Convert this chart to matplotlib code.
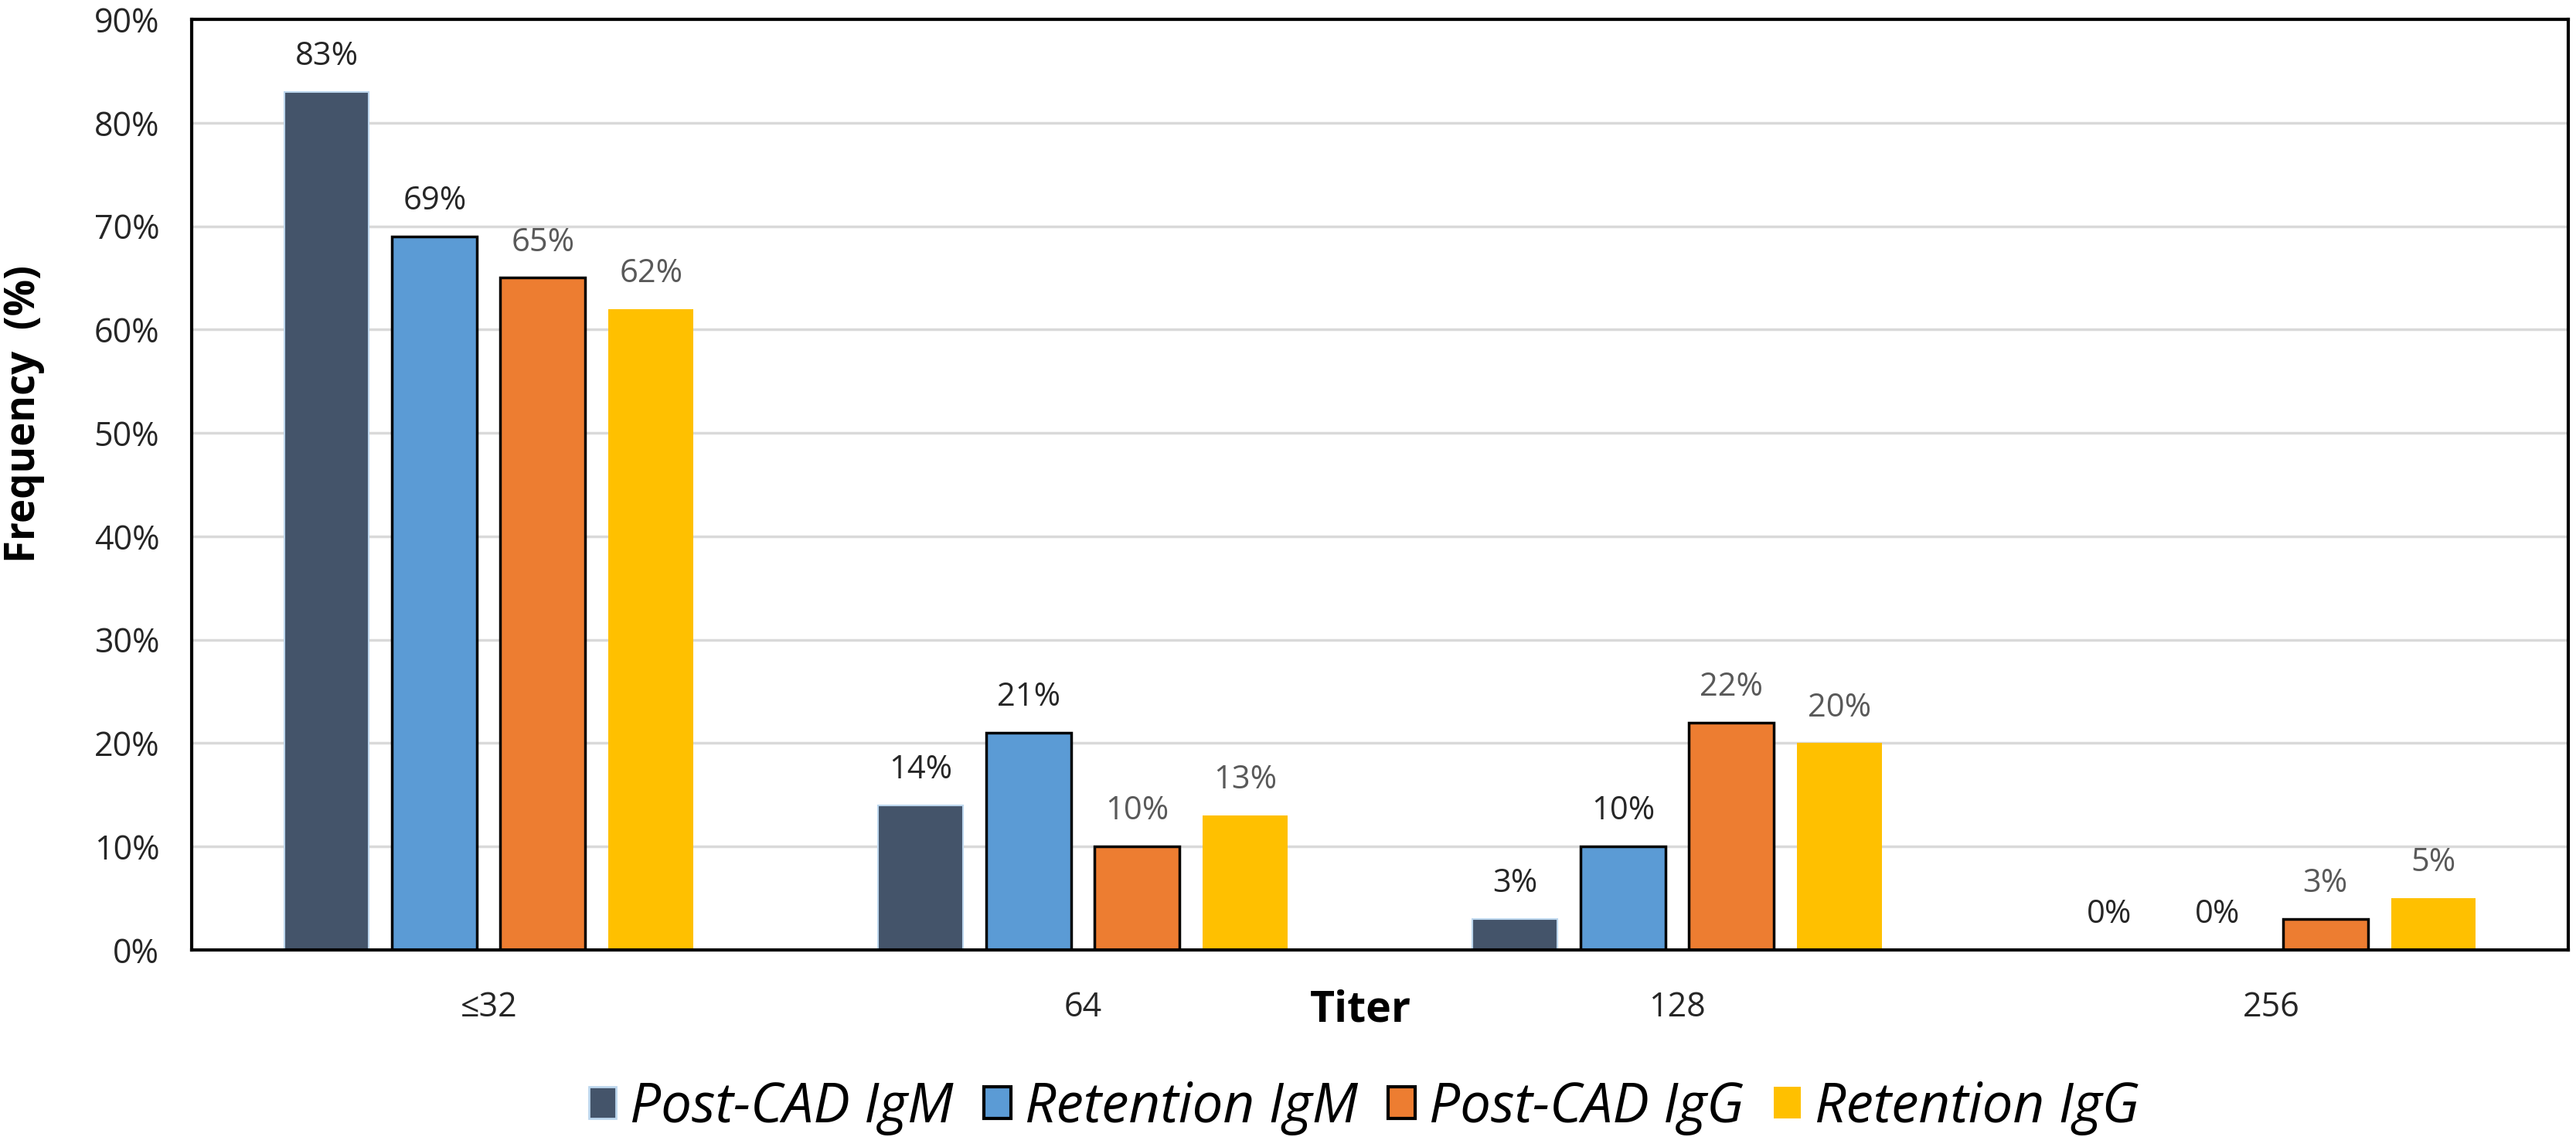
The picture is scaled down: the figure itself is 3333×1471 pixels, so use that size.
import numpy as np
import matplotlib
matplotlib.use('Agg')
import matplotlib.pyplot as plt
from matplotlib.ticker import MultipleLocator, FuncFormatter
from matplotlib.patches import Patch

plt.rcParams['font.family'] = ['Open Sans', 'DejaVu Sans']

# data
titers = ['\u226432', '64', '128', '256']
series = ['Post-CAD IgM', 'Retention IgM', 'Post-CAD IgG', 'Retention IgG']
post_cad_igm  = [83, 14, 3, 0]
retention_igm = [69, 21, 10, 0]
post_cad_igg  = [65, 10, 22, 3]
retention_igg = [62, 13, 20, 5]
values = [post_cad_igm, retention_igm, post_cad_igg, retention_igg]

# styles
fills  = ['#44546A', '#5B9BD5', '#ED7D31', '#FFC000']
edges  = ['#BDD7EE', 'black', 'black', 'none']
lws    = [1.5, 2.5, 2.5, 0]
lblcol = ['#262626', '#262626', '#595959', '#595959']

W, H = 3333, 1471
fig = plt.figure(figsize=(W/100, H/100), dpi=100)
ax = fig.add_axes([248/W, 1-1229/H, (3323-248)/W, (1229-25)/H])

x = np.arange(len(titers))
pitch = 0.182
width = 0.143
for i, (vals, name) in enumerate(zip(values, series)):
    pos = x + (i-1.5)*pitch
    ax.bar(pos, vals, width, color=fills[i], edgecolor=edges[i],
           linewidth=lws[i], label=name, zorder=3)
    for p, v in zip(pos, vals):
        ax.annotate('%d%%' % v, (p, v), xytext=(0, 33), textcoords='offset points',
                    ha='center', va='center', fontsize=30, color=lblcol[i])

ax.set_xlim(-0.5, 3.5)
ax.set_ylim(0, 90)
ax.yaxis.set_major_locator(MultipleLocator(10))
ax.yaxis.set_major_formatter(FuncFormatter(lambda v, _: '%d%%' % v))
ax.set_xticks(x)
ax.set_xticklabels(titers)
ax.tick_params(axis='y', length=0, pad=30, labelsize=31, labelcolor='#262626')
ax.tick_params(axis='x', length=0, pad=38, labelsize=31, labelcolor='#262626')
ax.grid(axis='y', color='#D9D9D9', lw=2.5, zorder=0)
ax.set_axisbelow(True)
for s in ax.spines.values():
    s.set_linewidth(3)
    s.set_color('black')
    s.set_zorder(5)

fig.text(1760/W, 1-1307/H, 'Titer', ha='center', va='center',
         fontsize=40, fontweight='bold')
fig.text(31/W, 1-536/H, 'Frequency  (%)', ha='center', va='center',
         rotation=90, fontsize=38, fontweight='bold')

handles = [Patch(facecolor=fills[i], edgecolor=edges[i], linewidth=lws[i]+0.5)
           for i in range(4)]
fig.legend(handles, series, loc='center', bbox_to_anchor=(1765/W, 1-1433/H),
           ncol=4, frameon=False, handlelength=0.5, handleheight=0.5,
           handletextpad=0.25, columnspacing=0.55,
           prop={'size': 51, 'style': 'italic'})

fig.savefig('out.png', dpi=100)
